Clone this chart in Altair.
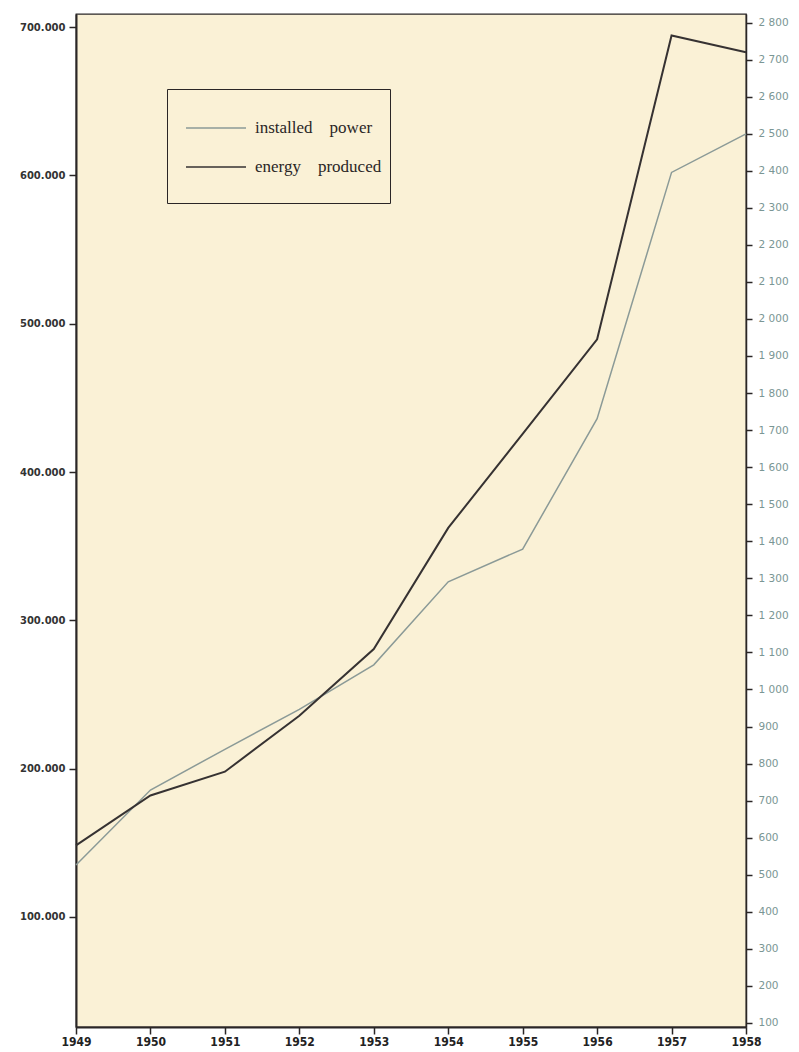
import altair as alt
import pandas as pd

years = [1949, 1950, 1951, 1952, 1953, 1954, 1955, 1956, 1957, 1958]
installed_power = [135000, 185600, 213000, 240000, 270000, 326000, 348000, 436000, 602000, 628000]
energy_produced = [579, 714, 778, 929, 1109, 1436, 1690, 1945, 2765, 2720]
series_names = ["installed power", "energy produced"]
series_colors = ["#8b9a97", "#363232"]
left_ticks = [100000, 200000, 300000, 400000, 500000, 600000, 700000]
right_ticks = [100, 200, 300, 400, 500, 600, 700, 800, 900, 1000, 1100, 1200, 1300, 1400,
               1500, 1600, 1700, 1800, 1900, 2000, 2100, 2200, 2300, 2400, 2500, 2600, 2700, 2800]

df_inst = pd.DataFrame({"year": years, "value": installed_power, "series": series_names[0]})
df_en = pd.DataFrame({"year": years, "value": energy_produced, "series": series_names[1]})

CREAM = "#FAF1D6"
INK = "#2a2626"
NB = "\u00a0\u00a0\u00a0\u00a0"

color = alt.Color(
    "series:N",
    scale=alt.Scale(domain=series_names, range=series_colors),
    legend=alt.Legend(
        orient="none", legendX=91, legendY=75, direction="vertical",
        title="\u00a0", titleOrient="bottom", titleFontSize=14, titlePadding=6,
        symbolType="stroke", symbolSize=3600, symbolStrokeWidth=1.6, symbolOffset=10,
        labelFont="Liberation Serif", labelFontSize=17, labelColor=INK, labelOffset=8,
        labelExpr="replace(datum.label, ' ', '" + NB + "')", labelLimit=400,
        padding=8, rowPadding=-25, strokeColor=INK, fillColor=CREAM,
    ),
)

x = alt.X(
    "year:Q",
    scale=alt.Scale(domain=[1949, 1958], nice=False, zero=False),
    axis=alt.Axis(
        values=years, format="d", title=None, grid=False, labelFlush=False, labelOverlap=False,
        domainColor=INK, domainWidth=2, tickColor=INK, tickWidth=1.5, tickSize=7,
        labelFont="Liberation Sans Narrow, DejaVu Sans Condensed, sans-serif",
        labelFontWeight="bold", labelFontSize=12, labelColor="#222", labelPadding=2,
    ),
)

inst = alt.Chart(df_inst).mark_line(strokeWidth=1.5).encode(
    x=x,
    y=alt.Y(
        "value:Q",
        scale=alt.Scale(domain=[25800, 708800], nice=False, zero=False),
        axis=alt.Axis(
            orient="left", values=left_ticks, title=None, grid=False, labelFlush=False,
            labelExpr="replace(format(datum.value, ','), ',', '.')",
            domainColor=INK, domainWidth=2, tickColor=INK, tickWidth=1.5, tickSize=7,
            labelFont="DejaVu Sans", labelFontWeight="bold", labelFontSize=10,
            labelColor="#333", labelPadding=4, minExtent=60, maxExtent=60,
        ),
    ),
    color=color,
)

en = alt.Chart(df_en).mark_line(strokeWidth=2).encode(
    x=x,
    y=alt.Y(
        "value:Q",
        scale=alt.Scale(domain=[89, 2823], nice=False, zero=False),
        axis=alt.Axis(
            orient="right", values=right_ticks, title=None, grid=False, labelFlush=False,
            labelExpr="replace(format(datum.value, ','), ',', ' ')",
            domainColor=INK, domainWidth=1.5, tickColor=INK, tickWidth=1.5, tickSize=6,
            labelFont="DejaVu Sans", labelFontSize=10.5, labelColor="#7a9694", labelPadding=6,
        ),
    ),
    color=color,
)

chart = (
    alt.layer(inst, en)
    .resolve_scale(y="independent")
    .properties(
        width=670, height=1013,
        padding={"left": 8, "top": 6, "right": 0, "bottom": 0},
        background="white",
    )
    .configure_view(fill=CREAM, stroke=INK, strokeWidth=1.3)
)

chart.save("out.html", embed_options={"renderer": "svg", "actions": False})
